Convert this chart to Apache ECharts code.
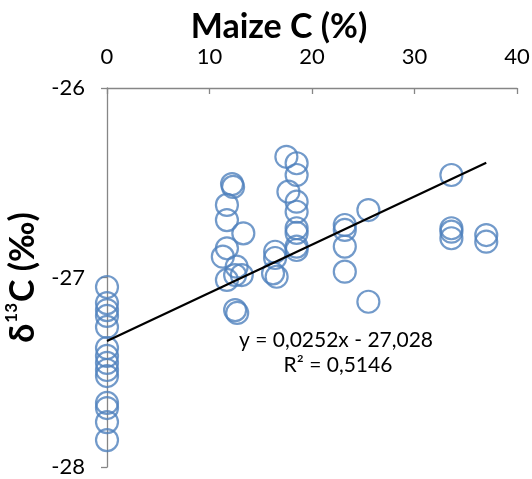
<!DOCTYPE html>
<html>
<head>
<meta charset="utf-8">
<script src="https://cdn.jsdelivr.net/npm/echarts@6/dist/echarts.min.js"></script>
<style>html,body{margin:0;padding:0;background:#fff}#c{width:532px;height:479px}</style>
</head>
<body>
<div id="c"></div>
<script>
// Maize C (%) values
const maizeC = [
  0,0,0,0,0,0,0,0,0,0,0,0,0,0,
  12.2,12.3,11.7,11.7,13.3,11.7,11.3,12.65,13.15,12.5,11.7,12.5,12.7,
  16.4,16.4,16.2,16.55,
  17.5,18.5,18.5,17.7,18.5,18.5,18.5,18.5,18.5,18.5,
  23.2,23.2,23.2,23.2,
  25.5,25.5,
  33.6,33.6,33.6,33.6,
  37.0,37.0
];
// δ13C (‰) values
const d13C = [
  -27.05,-27.135,-27.172,-27.203,-27.261,-27.372,-27.414,-27.451,-27.488,-27.52,-27.662,-27.689,-27.763,-27.858,
  -26.507,-26.522,-26.617,-26.697,-26.767,-26.846,-26.89,-26.943,-26.987,-26.987,-27.013,-27.172,-27.187,
  -26.864,-26.897,-26.978,-26.996,
  -26.363,-26.397,-26.459,-26.547,-26.6,-26.653,-26.74,-26.765,-26.837,-26.855,
  -26.723,-26.749,-26.837,-26.969,
  -26.644,-27.128,
  -26.459,-26.74,-26.758,-26.793,
  -26.776,-26.811
];
// Trend line end points as drawn
const trendX = [0, 37];
const trendY = [-27.335, -26.394];
const xTicks = [0, 10, 20, 30, 40];
const yTicks = [-28, -27, -26];
const equation = 'y = 0,0252x - 27,028';
const r2 = 'R\u00B2 = 0,5146';

const FONT = 'Lato, "Open Sans", sans-serif';
const chart = echarts.init(document.getElementById('c'), null, {renderer: 'canvas'});
const axisColor = '#868686';
chart.setOption({
  animation: false,
  backgroundColor: '#fff',
  grid: {left: 107, right: 15, top: 88, bottom: 12, containLabel: false, outerBoundsMode: 'none'},
  xAxis: {
    type: 'value', position: 'top',
    min: xTicks[0], max: xTicks[xTicks.length - 1], interval: 10,
    splitLine: {show: false},
    axisLine: {show: true, onZero: false, lineStyle: {color: axisColor, width: 1.3}},
    axisTick: {show: true, inside: true, length: 6, lineStyle: {color: axisColor, width: 1.3}},
    axisLabel: {margin: 20, fontSize: 22, color: '#000', fontFamily: FONT}
  },
  yAxis: {
    type: 'value',
    min: yTicks[0], max: yTicks[yTicks.length - 1], interval: 1,
    splitLine: {show: false},
    axisLine: {show: true, onZero: false, lineStyle: {color: axisColor, width: 1.3}},
    axisTick: {show: true, inside: false, length: 6, lineStyle: {color: axisColor, width: 1.3}},
    axisLabel: {margin: 22, fontSize: 22, color: '#000', fontFamily: FONT},
    name: '{a|\u03B4}{s|13}{a|C (\u2030)}',
    nameLocation: 'middle', nameRotate: 90, nameGap: 61,
    nameTextStyle: {
      rich: {
        a: {fontSize: 34, fontWeight: 'bold', color: '#000', fontFamily: FONT},
        s: {fontSize: 17, fontWeight: 'bold', color: '#000', fontFamily: FONT, padding: [0, 1, 24, 1]}
      }
    }
  },
  series: [
    {
      type: 'scatter',
      data: maizeC.map((x, i) => [x, d13C[i]]),
      symbol: 'circle', symbolSize: 22,
      itemStyle: {color: 'rgba(0,0,0,0)', borderColor: '#4F81BD', borderWidth: 2.2},
      z: 2
    },
    {
      type: 'line',
      data: trendX.map((x, i) => [x, trendY[i]]),
      symbol: 'none',
      lineStyle: {color: '#000', width: 2.2},
      z: 3
    }
  ],
  graphic: [
    {type: 'text', x: 279, y: 27, style: {text: 'Maize C (%)', textAlign: 'center', textVerticalAlign: 'middle', font: 'bold 34px ' + FONT, fill: '#000'}},
    {type: 'text', x: 336, y: 340, style: {text: equation, textAlign: 'center', textVerticalAlign: 'middle', font: '21px ' + FONT, fill: '#000'}},
    {type: 'text', x: 338, y: 365, style: {text: r2, textAlign: 'center', textVerticalAlign: 'middle', font: '21px ' + FONT, fill: '#000'}}
  ]
});
</script>
</body>
</html>
